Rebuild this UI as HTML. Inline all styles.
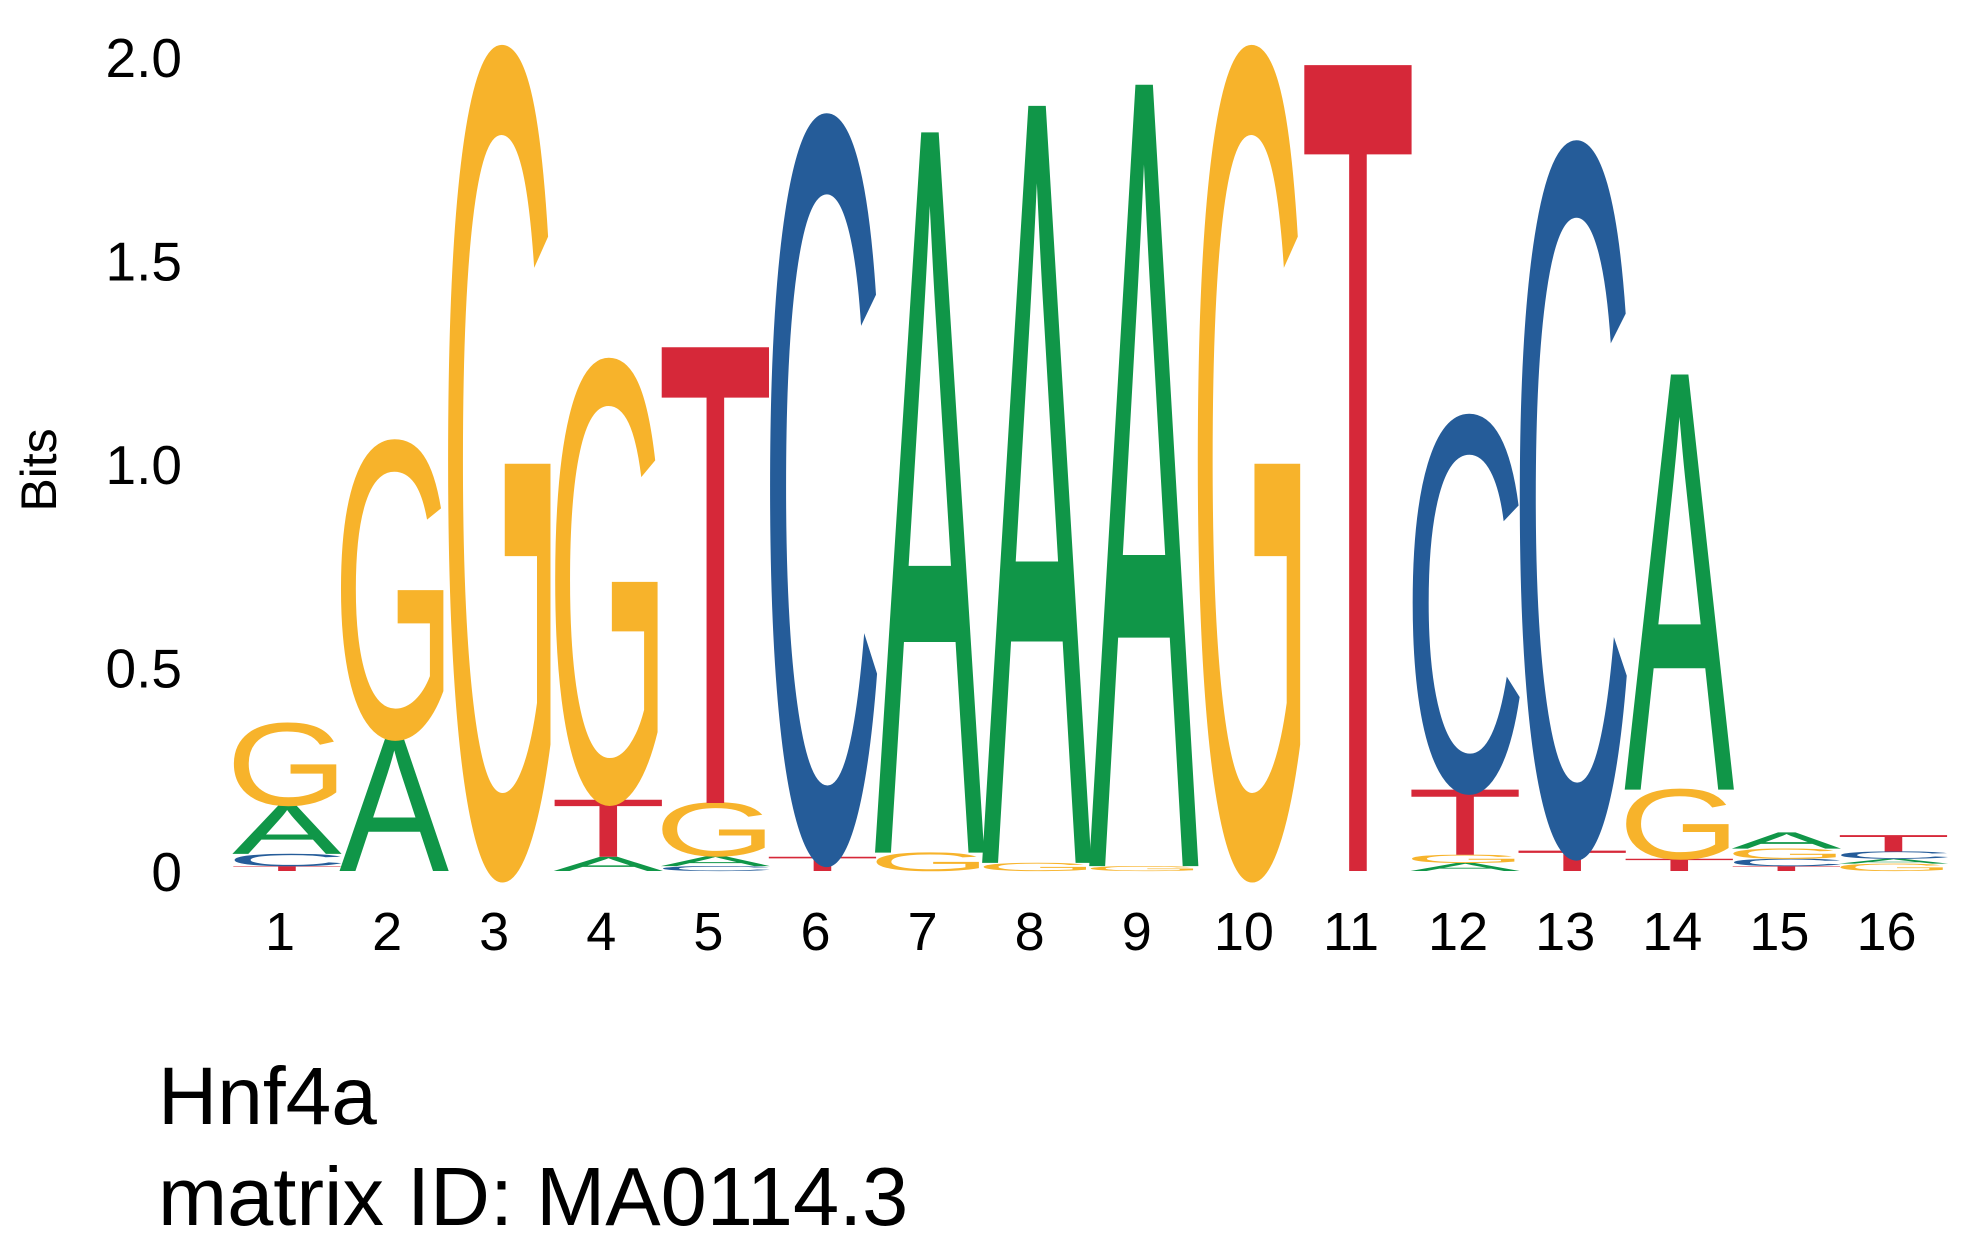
<!DOCTYPE html>
<html><head><meta charset="utf-8"><style>
html,body{margin:0;padding:0;background:#fff;width:1980px;height:1260px;overflow:hidden}
svg{display:block}
text{font-family:"Liberation Sans",sans-serif}
</style></head><body>
<svg id="chart" width="1980" height="1260" viewBox="0 0 1980 1260">
<g id="axis"></g>
<g id="letters"></g>
<g id="xlabels"></g>
<text transform="translate(56,470) rotate(-90)" font-size="50" text-anchor="middle">Bits</text>
<text x="158" y="1124" font-size="82">Hnf4a</text>
<text x="158" y="1225" font-size="83">matrix ID: MA0114.3</text>
</svg>
<script>
const positions = [1,2,3,4,5,6,7,8,9,10,11,12,13,14,15,16];
// stacks bottom -> top: [letter, bits]
const stacks = [
 [["T",0.012],["C",0.03],["A",0.12],["G",0.2]],
 [["A",0.33],["G",0.72]],
 [["G",2.0]],
 [["A",0.035],["T",0.14],["G",1.07]],
 [["C",0.012],["A",0.025],["G",0.13],["T",1.12]],
 [["T",0.035],["C",1.8]],
 [["G",0.045],["A",1.77]],
 [["G",0.02],["A",1.86]],
 [["G",0.012],["A",1.92]],
 [["G",2.0]],
 [["T",1.98]],
 [["A",0.02],["G",0.02],["T",0.16],["C",0.91]],
 [["T",0.05],["C",1.72]],
 [["T",0.03],["G",0.17],["A",1.02]],
 [["T",0.012],["C",0.018],["G",0.025],["A",0.04]],
 [["G",0.018],["A",0.012],["C",0.018],["T",0.04]]
];
const yTicks = [0,0.5,1.0,1.5,2.0];
const yTickLabels = ["0","0.5","1.0","1.5","2.0"];
const colors = {A:"#109648",C:"#255c99",G:"#f7b32b",T:"#d62839"};
const widthFactor = {A:0.9,C:1.0,G:1.0,T:0.95};
const NS="http://www.w3.org/2000/svg";
const y0=871, pxPerBit=407, x1=287, dx=107.1, w=122;
const yScale=v=>y0-v*pxPerBit;
const xScale=i=>x1+i*dx;
const axis=document.getElementById('axis');
yTicks.forEach((t,i)=>{
  const el=document.createElementNS(NS,'text');
  
  
  el.setAttribute('x',182);el.setAttribute('y',yScale(t)+20);
  el.setAttribute('font-size','55');el.setAttribute('text-anchor','end');
  el.textContent=yTickLabels[i];axis.appendChild(el);
});
const xl=document.getElementById('xlabels');
positions.forEach((p,i)=>{
  const el=document.createElementNS(NS,'text');
  
  
  el.setAttribute('x',xScale(i)-7);el.setAttribute('y',950);
  el.setAttribute('font-size','54');el.setAttribute('text-anchor','middle');
  el.textContent=p;xl.appendChild(el);
});
const lg=document.getElementById('letters');
const capH=68.8, adv=72;
stacks.forEach((st,i)=>{
  let cum=0;
  st.forEach(([L,v])=>{
    const h=v*pxPerBit;
    const yb=yScale(cum);
    cum+=v;
    if(h<0.5) return;
    const lw=w*widthFactor[L];
    const el=document.createElementNS(NS,'text');
    
    
    el.setAttribute('x',0);el.setAttribute('y',0);
    el.setAttribute('font-size','100');
    el.setAttribute('textLength',adv);
    el.setAttribute('lengthAdjust','spacingAndGlyphs');
    el.setAttribute('fill',colors[L]);
    el.setAttribute('transform','translate('+(xScale(i)-lw/2)+','+yb+') scale('+(lw/adv)+','+(h/capH)+')');
    el.textContent=L;lg.appendChild(el);
  });
});
</script>
</body></html>
